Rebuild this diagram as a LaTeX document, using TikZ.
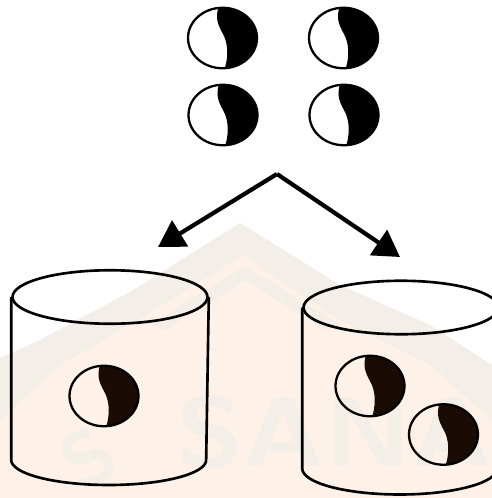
\documentclass[tikz,border=0pt]{standalone}
\usepackage{fontspec}
\usetikzlibrary{arrows.meta, shapes.geometric}

\definecolor{inkbrown}{HTML}{1A0C04}
\definecolor{washpeach}{HTML}{FEF1E7}
\definecolor{washgrey}{HTML}{F3EEE8}

\begin{document}
\begin{tikzpicture}[
    x=0.02cm,
    y=-0.02cm,
    seed/.style={ellipse, draw, inner sep=0pt, line width=1.3pt,
      minimum width=1.38cm, minimum height=1.21cm,
      path picture={
        \fill[#1, shift={(path picture bounding box.center)}]
          (-3,-34) .. controls (-8,-20) and (-5,-14) .. (1,-3)
          .. controls (5,5) and (7,18) .. (1,34)
          -- (40,34) -- (40,-34) -- cycle;
      }},
    rim/.style={ellipse, draw, inner sep=0pt, line width=1.5pt,
      minimum width=3.9cm, minimum height=1.07cm},
    wall/.style={line width=1.5pt, line join=round},
    pointer/.style={line width=2.4pt,
      -{Triangle[length=0.52cm, width=0.6cm]}},
    wash/.style={text=washgrey, inner sep=0pt, font=\sffamily\bfseries}
  ]

  \useasboundingbox (0,0) rectangle (492,498);

  % --- background wash ---
  \fill[washgrey] (240,223) -- (130,292) -- (40,340) -- (0,358) -- (0,498)
    -- (492,498) -- (492,365) -- (430,325) -- (340,285) -- cycle;
  \fill[washpeach] (243,255) -- (130,325) -- (60,365) -- (0,420) -- (0,498)
    -- (492,498) -- (492,420) -- (430,365) -- (340,320) -- cycle;
  \fill[washgrey] (245,266) -- (150,325) -- (165,330) -- (245,280)
    -- (325,330) -- (340,325) -- cycle;
  \node[wash, scale=5.6, anchor=west, xscale=1.12] (mark) at (174,432) {SANA};
  \node[wash, scale=4.4, rotate=35] (markleft) at (88,458) {S};

  % --- seeds on top ---
  \node[seed=black] (s1) at (222.5,38) {};
  \node[seed=black] (s2) at (343.5,38) {};
  \node[seed=black] (s3) at (223,115) {};
  \node[seed=black] (s4) at (344,115) {};

  % --- fork ---
  \coordinate (fork) at (277,174);
  \coordinate (toA) at (158,247);
  \coordinate (toB) at (400,257);
  \draw[pointer] (fork) -- (toA);
  \draw[pointer] (fork) -- (toB);

  % --- left cup ---
  \node[rim] (rimA) at (110,297) {};
  \draw[wall] (rimA.west) -- ++(0,163)
    arc[start angle=180, end angle=360, x radius=1.95cm, y radius=0.5cm]
    -- (rimA.east);
  \node[seed=inkbrown] (a1) at (104,396) {};

  % --- right cup ---
  \node[rim] (rimB) at (401,307.5) {};
  \draw[wall] (rimB.west) -- ++(0,161)
    arc[start angle=180, end angle=360, x radius=1.95cm, y radius=0.52cm]
    -- (rimB.east);
  \node[seed=inkbrown] (b1) at (370,386) {};
  \node[seed=inkbrown] (b2) at (443.5,434.5) {};

\end{tikzpicture}
\end{document}
